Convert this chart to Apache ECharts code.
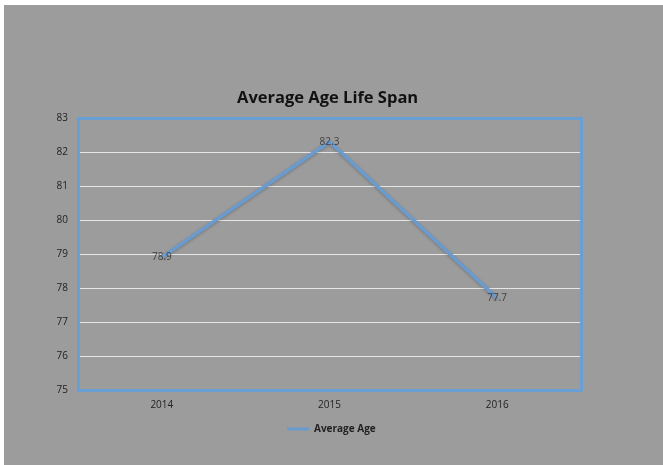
<!DOCTYPE html>
<html>
<head>
<meta charset="utf-8">
<script src="https://cdn.jsdelivr.net/npm/echarts@6/dist/echarts.min.js"></script>
<style>
  html, body { margin: 0; padding: 0; background: #ffffff; }
  #chart { position: absolute; left: 4px; top: 5px; width: 659px; height: 460px; background: #9c9c9c; }
</style>
</head>
<body>
<div id="chart"></div>
<script>
  var years = ['2014', '2015', '2016'];
  var avgAge = [78.9, 82.3, 77.7];
  var yTicks = [75, 76, 77, 78, 79, 80, 81, 82, 83];

  var frameLine = { show: true, lineStyle: { color: '#6a9fd3', width: 3 } };

  var myChart = echarts.init(document.getElementById('chart'));
  var option = {
    backgroundColor: '#9c9c9c',
    title: {
      text: 'Average Age Life Span',
      left: 228,
      top: 80,
      textStyle: { fontFamily: 'Open Sans', fontWeight: 'bold', fontSize: 16.5, color: '#111' }
    },
    legend: {
      top: 414,
      left: 278,
      icon: 'rect',
      itemWidth: 22,
      itemHeight: 3,
      itemGap: 2,
      itemStyle: { color: '#6a9bcf', opacity: 1 },
      textStyle: { fontFamily: 'Open Sans', fontSize: 10, fontWeight: 'bold', color: '#222' },
      data: ['Average Age']
    },
    grid: {
      left: 74,
      top: 113,
      right: 82,
      bottom: 75
    },
    xAxis: [{
      type: 'category',
      data: years,
      boundaryGap: true,
      axisLine: frameLine,
      axisTick: { show: false },
      axisLabel: { margin: 10, fontFamily: 'Open Sans', fontSize: 10, color: '#222' }
    }, {
      type: 'category',
      position: 'top',
      data: years,
      axisLine: frameLine,
      axisTick: { show: false },
      axisLabel: { show: false }
    }],
    yAxis: [{
      type: 'value',
      min: yTicks[0],
      max: yTicks[yTicks.length - 1],
      interval: 1,
      axisLine: frameLine,
      axisTick: { show: false },
      splitLine: { lineStyle: { color: '#e6e6e6', width: 1 } },
      axisLabel: { margin: 10, fontFamily: 'Open Sans', fontSize: 10, color: '#222' }
    }, {
      type: 'value',
      position: 'right',
      min: yTicks[0],
      max: yTicks[yTicks.length - 1],
      interval: 1,
      axisLine: frameLine,
      axisTick: { show: false },
      splitLine: { show: false },
      axisLabel: { show: false }
    }],
    series: [{
      name: 'Average Age',
      type: 'line',
      data: avgAge,
      symbol: 'circle',
      symbolSize: 0.5,
      showSymbol: true,
      itemStyle: { color: '#6a9bcf', borderWidth: 0 },
      lineStyle: { width: 3.5, color: '#6a9bcf', shadowColor: 'rgba(0,0,0,0.25)', shadowBlur: 3, shadowOffsetY: 1 },
      label: {
        show: true,
        position: 'inside',
        fontFamily: 'Open Sans',
        fontSize: 10,
        color: '#404040'
      }
    }]
  };
  myChart.setOption(option);
</script>
</body>
</html>
